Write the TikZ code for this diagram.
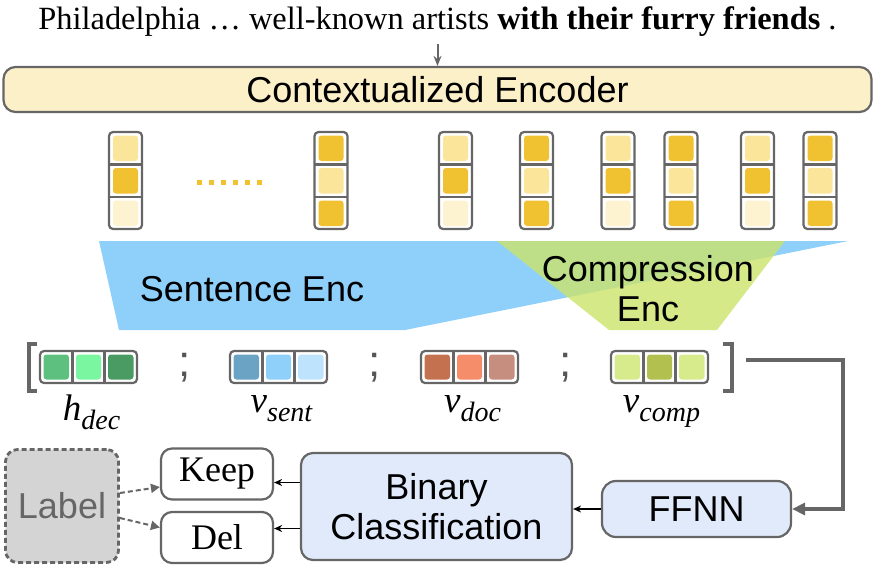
\documentclass[tikz,border=0pt]{standalone}
\usepackage{fontspec}
\setmainfont{Liberation Serif}
\setsansfont{Liberation Sans}
\usepackage{xcolor}
\usetikzlibrary{arrows.meta,positioning,calc}

\definecolor{edgegray}{HTML}{666666}
\definecolor{semigray}{HTML}{555555}
\definecolor{encfill}{HTML}{FBF0C8}
\definecolor{tokL}{HTML}{FBE59A}
\definecolor{tokD}{HTML}{F0C232}
\definecolor{tokP}{HTML}{FDF3D0}
\definecolor{sentblue}{HTML}{8FD0FB}
\definecolor{compgreen}{HTML}{CAE36C}
\definecolor{clsfill}{HTML}{E1EAFA}
\definecolor{labfill}{HTML}{D4D4D4}
\definecolor{hdA}{HTML}{5DC07E}
\definecolor{hdB}{HTML}{7AF5A0}
\definecolor{hdC}{HTML}{4A9B63}
\definecolor{vsA}{HTML}{6BA3C4}
\definecolor{vsB}{HTML}{8FD0FB}
\definecolor{vsC}{HTML}{BEE4FD}
\definecolor{vdA}{HTML}{C4714F}
\definecolor{vdB}{HTML}{F58D6A}
\definecolor{vdC}{HTML}{C58E7E}
\definecolor{vcA}{HTML}{D7EB8C}
\definecolor{vcB}{HTML}{B2C04F}

\begin{document}
\begin{tikzpicture}[x=1pt, y=-1pt,
  bigbox/.style={draw=edgegray, line width=2.2pt, rounded corners=12pt, font=\sffamily\fontsize{36}{40}\selectfont, align=center},
  smallbox/.style={draw=edgegray, line width=2.2pt, rounded corners=11pt, fill=white, minimum width=112pt, minimum height=51pt, font=\fontsize{36}{38}\selectfont},
  vecbox/.style={draw=edgegray, line width=2.2pt, rounded corners=4pt, minimum width=97pt, minimum height=32pt, inner sep=0pt},
  veclab/.style={font=\itshape\fontsize{37}{40}\selectfont, inner sep=0pt},
  encfont/.style={font=\sffamily\fontsize{36}{40}\selectfont, align=center},
  arr/.style={-{Stealth[length=8pt,width=7pt]}, line width=1.8pt, black},
  larr/.style={-{Triangle[length=9pt,width=9pt]}, line width=2pt, edgegray, dash pattern=on 5pt off 3pt},
  garr/.style={-{Triangle[length=13pt,width=12pt]}, line width=3.2pt, edgegray}
]
  \useasboundingbox (0,0) rectangle (875,568);

  % input sentence and encoder
  \node[font=\fontsize{32.4}{36}\selectfont] (sent) at (437.5,22)
    {Philadelphia … well-known artists \textbf{with their furry friends} .};
  \node[bigbox, fill=encfill, minimum width=868pt, minimum height=45pt] (enc) at (437.5,89.5) {Contextualized Encoder};
  \draw[-{Stealth[length=10pt,width=8pt]}, edgegray, line width=2pt] (437.5,44) -- (enc.north);

  % token vectors
  \foreach \cx/\ca/\cb/\cc in {125.5/tokL/tokD/tokP, 331/tokD/tokL/tokD, 455.5/tokL/tokD/tokP, 536.5/tokD/tokL/tokD,
                               618/tokL/tokD/tokP, 681/tokD/tokL/tokD, 757.5/tokL/tokD/tokP, 820/tokD/tokL/tokD} {
    \fill[\ca, rounded corners=3pt] (\cx-12.5,135.5) rectangle (\cx+12.5,161);
    \fill[\cb, rounded corners=3pt] (\cx-12.5,168) rectangle (\cx+12.5,193.5);
    \fill[\cc, rounded corners=3pt] (\cx-12.5,200.5) rectangle (\cx+12.5,226);
    \draw[edgegray, line width=2.2pt, rounded corners=4pt] (\cx-16.5,132) rectangle (\cx+16.5,229);
    \draw[edgegray, line width=2.2pt] (\cx-16.5,164.5) -- (\cx+16.5,164.5) (\cx-16.5,197) -- (\cx+16.5,197);
  }
  \draw[tokD, line width=5pt, dash pattern=on 5pt off 7pt] (197,182) -- (262,182);

  % sentence and compression encoders
  \fill[sentblue] (99,241) -- (848,241) -- (405,330) -- (119,330) -- cycle;
  \fill[compgreen, opacity=0.8] (497,241) -- (785,241) -- (717,330) -- (609,330) -- cycle;
  \node[encfont] (senc) at (252,289) {Sentence Enc};
  \node[encfont] (cenc) at (648,289) {Compression\\Enc};

  % concatenated vectors
  \foreach \vx/\ca/\cb/\cc/\vn in {88.5/hdA/hdB/hdC/hdec, 278.5/vsA/vsB/vsC/vsent, 469.5/vdA/vdB/vdC/vdoc, 659.5/vcA/vcB/vcA/vcomp} {
    \fill[\ca, rounded corners=3pt] (\vx-45,354.5) rectangle (\vx-19.5,379.5);
    \fill[\cb, rounded corners=3pt] (\vx-12.5,354.5) rectangle (\vx+12.5,379.5);
    \fill[\cc, rounded corners=3pt] (\vx+19.5,354.5) rectangle (\vx+45,379.5);
    \node[vecbox] (\vn) at (\vx,367) {};
    \draw[edgegray, line width=2.2pt] (\vx-16,351) -- (\vx-16,383) (\vx+16,351) -- (\vx+16,383);
  }
  \foreach \sx in {184.5,374.5,566}
    \node[font=\sffamily\fontsize{44}{46}\selectfont, text=semigray, inner sep=0pt] at (\sx,368) {;};
  \draw[edgegray, line width=4pt] (37,343.5) -- (28.5,343.5) -- (28.5,390.5) -- (37,390.5);
  \draw[edgegray, line width=4pt] (723,343.5) -- (731.5,343.5) -- (731.5,390.5) -- (723,390.5);
  \coordinate (outpt) at (746,360);

  \node[veclab, below=11pt of hdec, xshift=3pt] (lhdec) {h\raisebox{-9pt}{\fontsize{28}{30}\selectfont dec}};
  \node[veclab, below=11pt of vsent, xshift=3pt] (lvsent) {v\raisebox{-9pt}{\fontsize{28}{30}\selectfont sent}};
  \node[veclab, below=11pt of vdoc, xshift=3pt] (lvdoc) {v\raisebox{-9pt}{\fontsize{28}{30}\selectfont doc}};
  \node[veclab, below=11pt of vcomp, xshift=2pt] (lvcomp) {v\raisebox{-9pt}{\fontsize{28}{30}\selectfont comp}};

  % classification
  \node[bigbox, fill=labfill, text=edgegray, dash pattern=on 5pt off 3pt, line width=2.8pt, minimum width=113pt, minimum height=113pt] (label) at (62,506) {Label};
  \node[smallbox] (keep) at (217,474) {Keep};
  \node[smallbox] (del) at (217,537.5) {Del};
  \node[bigbox, fill=clsfill, minimum width=271pt, minimum height=107pt] (bin) at (436.5,506.5) {Binary\\Classification};
  \node[bigbox, fill=clsfill, rounded corners=14pt, minimum width=189pt, minimum height=56pt] (ffnn) at (696.5,509) {FFNN};

  \draw[arr] ([yshift=24pt]bin.west) -- ([yshift=24pt]bin.west -| keep.east);
  \draw[arr] ([yshift=-22pt]bin.west) -- ([yshift=-22pt]bin.west -| del.east);
  \draw[arr] (ffnn.west) -- (ffnn.west -| bin.east);
  \draw[larr] ([yshift=13pt]label.east) -- ([yshift=-13pt]keep.west);
  \draw[larr] ([yshift=-12pt]label.east) -- ([yshift=10pt]del.west);
  \draw[garr] (outpt) -- ++(97,0) |- (ffnn.east);
\end{tikzpicture}
\end{document}
